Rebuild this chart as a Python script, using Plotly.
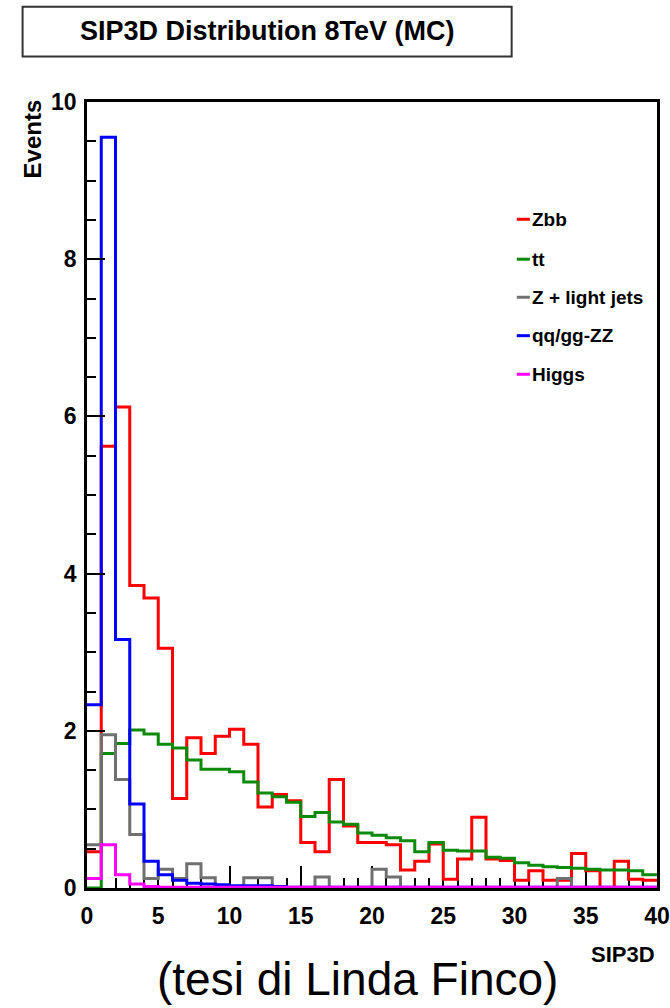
import numpy as np
import plotly.graph_objects as go

# SIP3D binning: 40 bins of width 1 between 0 and 40
bin_edges = np.linspace(0, 40, 41)

zbb = [0.46, 5.62, 6.12, 3.85, 3.69, 3.05, 1.14, 1.91, 1.71, 1.93,
       2.02, 1.83, 1.03, 1.19, 1.11, 0.58, 0.46, 1.38, 0.79, 0.58,
       0.58, 0.55, 0.23, 0.34, 0.56, 0.11, 0.37, 0.90, 0.37, 0.35,
       0.10, 0.22, 0.10, 0.10, 0.44, 0.22, 0.00, 0.34, 0.11, 0.10]

tt = [0.00, 1.71, 1.84, 2.01, 1.96, 1.83, 1.78, 1.63, 1.51, 1.51,
      1.48, 1.35, 1.21, 1.16, 1.09, 0.91, 0.96, 0.84, 0.81, 0.70,
      0.67, 0.64, 0.60, 0.46, 0.58, 0.48, 0.47, 0.47, 0.39, 0.38,
      0.32, 0.29, 0.27, 0.26, 0.25, 0.24, 0.23, 0.23, 0.22, 0.17]

z_light = [0.55, 1.95, 1.38, 0.68, 0.12, 0.24, 0.12, 0.31, 0.13, 0.00,
           0.00, 0.13, 0.13, 0.00, 0.00, 0.00, 0.14, 0.00, 0.00, 0.00,
           0.24, 0.14, 0.00, 0.00, 0.00, 0.00, 0.00, 0.00, 0.00, 0.00,
           0.00, 0.00, 0.00, 0.12, 0.00, 0.00, 0.00, 0.00, 0.00, 0.00]

zz = [2.33, 9.55, 3.16, 1.07, 0.34, 0.17, 0.10, 0.06, 0.05, 0.04,
      0.03, 0.03, 0.03, 0.02, 0.01, 0.01, 0.01, 0.01, 0.01, 0.01,
      0.01, 0.01, 0.01, 0.01, 0.01, 0.01, 0.01, 0.01, 0.01, 0.01,
      0.01, 0.01, 0.01, 0.01, 0.01, 0.01, 0.01, 0.01, 0.01, 0.01]

higgs = [0.12, 0.55, 0.17, 0.05, 0.02, 0.01, 0.01, 0.01, 0.01, 0.01,
         0.01, 0.01, 0.01, 0.01, 0.01, 0.01, 0.01, 0.01, 0.01, 0.01,
         0.01, 0.01, 0.01, 0.01, 0.01, 0.01, 0.01, 0.01, 0.01, 0.01,
         0.01, 0.01, 0.01, 0.01, 0.01, 0.01, 0.01, 0.01, 0.01, 0.01]

series = [
    ("Zbb", zbb, "#ff0000"),
    ("tt", tt, "#0b8a0b"),
    ("Z + light jets", z_light, "#707070"),
    ("qq/gg-ZZ", zz, "#0000ff"),
    ("Higgs", higgs, "#ff00ff"),
]

FONT = "Liberation Sans, Arial, Helvetica, sans-serif"

fig = go.Figure()
for name, vals, color in series:
    y = list(vals) + [vals[-1]]
    fig.add_trace(go.Scatter(
        x=bin_edges, y=y, mode="lines", name=name,
        line=dict(color=color, width=3, shape="hv"),
        showlegend=False, hoverinfo="skip",
    ))

fig.update_layout(
    width=670, height=1008,
    margin=dict(l=87, r=13, t=102, b=120),
    paper_bgcolor="white", plot_bgcolor="white",
    font=dict(family=FONT, color="black"),
)

fig.update_xaxes(
    range=[0, 40], showgrid=False, zeroline=False, automargin=False,
    showline=True, linecolor="black", linewidth=2.5, mirror=True,
    ticks="inside", ticklen=22, tickwidth=2, tickcolor="black",
    tick0=0, dtick=5, ticklabelstandoff=6,
    minor=dict(ticks="inside", ticklen=10, tickwidth=2, tickcolor="black", dtick=1),
    tickfont=dict(family=FONT, size=23, weight="bold"),
    layer="below traces",
)
fig.update_yaxes(
    range=[0, 10], showgrid=False, zeroline=False, automargin=False,
    showline=True, linecolor="black", linewidth=2.5, mirror=True,
    ticks="inside", ticklen=18, tickwidth=2, tickcolor="black",
    tick0=0, dtick=2, ticklabelstandoff=3,
    minor=dict(ticks="inside", ticklen=9, tickwidth=2, tickcolor="black", dtick=0.5),
    tickfont=dict(family=FONT, size=23, weight="bold"),
)

# title box
fig.add_shape(type="rect", xref="paper", yref="paper",
              x0=-0.113, x1=0.745, y0=1.0578, y1=1.1211,
              line=dict(color="#333333", width=2), fillcolor="white")
fig.add_annotation(xref="paper", yref="paper", x=0.317, y=1.0903,
                   text="SIP3D Distribution 8TeV (MC)", showarrow=False,
                   font=dict(family=FONT, size=27, weight="bold"),
                   xanchor="center", yanchor="middle")

# legend entries
legend_y = [0.8508, 0.8000, 0.7516, 0.7027, 0.6536]
for (name, _, color), ly in zip(series, legend_y):
    fig.add_shape(type="line", xref="paper", yref="paper",
                  x0=0.754, x1=0.777, y0=ly, y1=ly,
                  line=dict(color=color, width=3))
    fig.add_annotation(xref="paper", yref="paper", x=0.777, y=ly,
                       text=name, showarrow=False,
                       font=dict(family=FONT, size=19, weight="bold"),
                       xanchor="left", yanchor="middle")

# axis titles
fig.add_annotation(xref="paper", yref="paper", x=1.0, y=-0.0852,
                   text="SIP3D", showarrow=False,
                   font=dict(family=FONT, size=22, weight="bold"),
                   xanchor="right", yanchor="middle")
fig.add_annotation(xref="paper", yref="paper", x=-0.0965, y=0.9536,
                   text="Events", showarrow=False, textangle=-90,
                   font=dict(family=FONT, size=24, weight="bold"),
                   xanchor="center", yanchor="middle")

# caption
fig.add_annotation(xref="paper", yref="paper", x=0.4737, y=-0.1158,
                   text="(tesi di Linda Finco)", showarrow=False,
                   font=dict(family=FONT, size=46),
                   xanchor="center", yanchor="middle")

fig.write_html("out.html")
